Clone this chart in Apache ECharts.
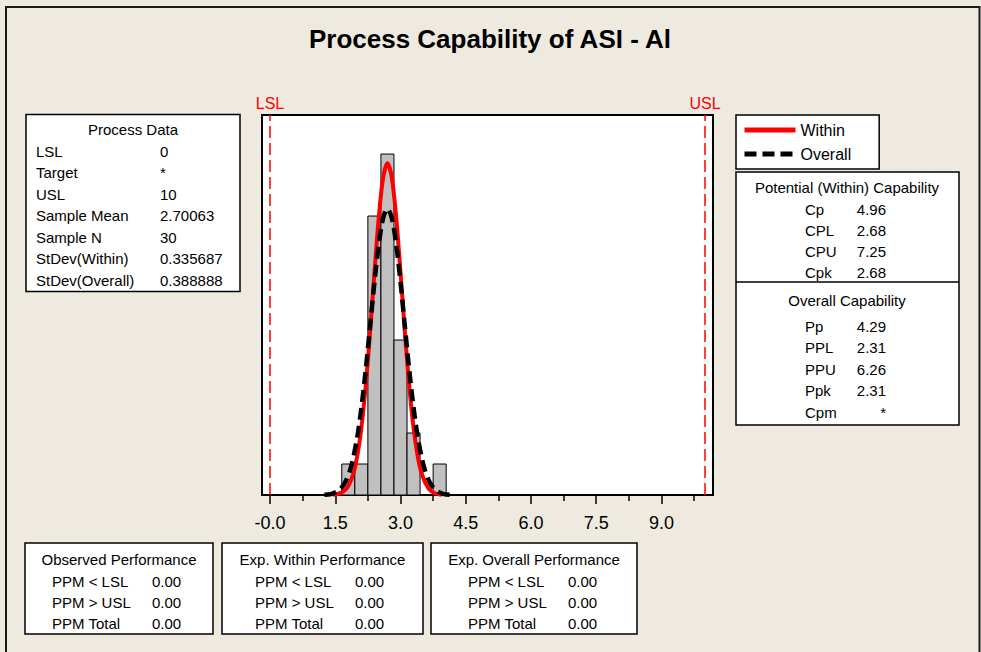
<!DOCTYPE html>
<html>
<head>
<meta charset="utf-8">
<script src="https://cdn.jsdelivr.net/npm/echarts@6/dist/echarts.min.js"></script>
<style>
html,body{margin:0;padding:0;background:#EEEAE0;}
#chart{width:981px;height:652px;}
</style>
</head>
<body>
<div id="chart"></div>
<script>
// ---------- data ----------
var chartTitle = 'Process Capability of ASI - Al';
var lsl = 0, usl = 10;
var binStarts = [1.65, 1.95, 2.25, 2.55, 2.85, 3.15, 3.45, 3.75];
var binWidth = 0.3;
var binCounts = [1, 1, 9, 11, 5, 2, 0, 1];

var withinX = [1.45,1.6,1.75,1.9,2.0,2.1,2.2,2.3,2.4,2.5,2.6,2.7,2.8,2.9,3.0,3.1,3.2,3.3,3.4,3.5,3.65,3.8,3.95];
var withinY = [0.01,0.05,0.19,0.62,1.21,2.16,3.52,5.25,7.16,8.95,10.23,10.70,10.24,8.97,7.19,5.27,3.54,2.17,1.22,0.63,0.20,0.05,0.01];
var overallX = [1.25,1.4,1.55,1.7,1.85,2.0,2.1,2.2,2.3,2.4,2.5,2.6,2.7,2.8,2.9,3.0,3.1,3.2,3.3,3.4,3.55,3.7,3.85,4.0,4.15];
var overallY = [0.01,0.03,0.12,0.34,0.84,1.82,2.80,4.03,5.43,6.85,8.08,8.93,9.23,8.94,8.10,6.87,5.45,4.05,2.82,1.83,0.85,0.34,0.12,0.03,0.01];

var tickValues = [0, 1.5, 3.0, 4.5, 6.0, 7.5, 9.0];
var tickLabels = ['-0.0', '1.5', '3.0', '4.5', '6.0', '7.5', '9.0'];
var minorTickValues = [0.75, 2.25, 3.75, 5.25, 6.75, 8.25, 9.75];

var processTitle = 'Process Data';
var processLabels = ['LSL', 'Target', 'USL', 'Sample Mean', 'Sample N', 'StDev(Within)', 'StDev(Overall)'];
var processValues = ['0', '*', '10', '2.70063', '30', '0.335687', '0.388888'];

var withinCapTitle = 'Potential (Within) Capability';
var withinCapLabels = ['Cp', 'CPL', 'CPU', 'Cpk'];
var withinCapValues = ['4.96', '2.68', '7.25', '2.68'];
var overallCapTitle = 'Overall Capability';
var overallCapLabels = ['Pp', 'PPL', 'PPU', 'Ppk', 'Cpm'];
var overallCapValues = ['4.29', '2.31', '6.26', '2.31', '*'];

var perfLabels = ['PPM < LSL', 'PPM > USL', 'PPM Total'];
var perfTitles = ['Observed Performance', 'Exp. Within Performance', 'Exp. Overall Performance'];
var observedPerf = ['0.00', '0.00', '0.00'];
var withinPerf = ['0.00', '0.00', '0.00'];
var overallPerf = ['0.00', '0.00', '0.00'];

// ---------- build ----------
var FONT = '"Liberation Sans", Arial, sans-serif';
var histData = binStarts.map(function (s, i) { return [s, s + binWidth, binCounts[i]]; });
var withinData = withinX.map(function (x, i) { return [x, withinY[i]]; });
var overallData = overallX.map(function (x, i) { return [x, overallY[i]]; });

function txt(x, y, s, align, size, weight) {
  return { type: 'text', x: x, y: y, silent: true,
    style: { text: s, fill: '#000', font: (weight || 'normal') + ' ' + (size || 15) + 'px ' + FONT,
      textAlign: align || 'left', textVerticalAlign: 'middle' } };
}
function box(x, y, w, h) {
  return { type: 'rect', shape: { x: x, y: y, width: w, height: h }, silent: true,
    style: { fill: '#fff', stroke: '#000', lineWidth: 1.5 } };
}

var g = [];
// outer frame
g.push({ type: 'polyline', silent: true, shape: { points: [[6, 652], [6, 7], [979.5, 7], [979.5, 652]] },
  style: { stroke: '#1a1a1a', lineWidth: 2, fill: null } });
// title
g.push(txt(490, 39, chartTitle, 'center', 26, 'bold'));

// Process data box
g.push(box(26, 114.5, 214, 177));
g.push(txt(133, 129, processTitle, 'center'));
processLabels.forEach(function (l, i) {
  var y = 151 + i * 21.5;
  g.push(txt(36, y, l, 'left'));
  g.push(txt(160, y, processValues[i], 'left'));
});

// Capability box
g.push(box(736, 172, 223, 253));
g.push({ type: 'line', silent: true, shape: { x1: 736, y1: 282, x2: 959, y2: 282 }, style: { stroke: '#000', lineWidth: 1.5 } });
g.push(txt(847, 187, withinCapTitle, 'center'));
withinCapLabels.forEach(function (l, i) {
  var y = 209 + i * 21.3;
  g.push(txt(805, y, l, 'left'));
  g.push(txt(886, y, withinCapValues[i], 'right'));
});
g.push(txt(847, 300, overallCapTitle, 'center'));
overallCapLabels.forEach(function (l, i) {
  var y = 326 + i * 21.5;
  g.push(txt(805, y, l, 'left'));
  g.push(txt(886, y, overallCapValues[i], 'right'));
});

// Performance boxes
var perfBoxes = [
  { x: 25, w: 188, lx: 52, vx: 152, vals: observedPerf },
  { x: 222, w: 201, lx: 255, vx: 355, vals: withinPerf },
  { x: 431, w: 206, lx: 468, vx: 568, vals: overallPerf }
];
perfBoxes.forEach(function (b, k) {
  g.push(box(b.x, 543, b.w, 91));
  g.push(txt(b.x + b.w / 2, 559, perfTitles[k], 'center'));
  perfLabels.forEach(function (l, i) {
    var y = 581 + i * 21;
    g.push(txt(b.lx, y, l, 'left'));
    g.push(txt(b.vx, y, b.vals[i], 'left'));
  });
});

var chart = echarts.init(document.getElementById('chart'), null, { renderer: 'svg' });
chart.setOption({
  backgroundColor: '#EEEAE0',
  animation: false,
  textStyle: { fontFamily: FONT },
  grid: { left: 262, top: 115, width: 451, height: 380, show: true, backgroundColor: '#fff',
    borderColor: '#000', borderWidth: 2, containLabel: false },
  legend: {
    left: 736, top: 115, orient: 'vertical', backgroundColor: '#fff', borderColor: '#000', borderWidth: 1.5,
    borderRadius: 0, padding: [7, 28, 7, 6], itemWidth: 51, itemHeight: 14, itemGap: 8,
    itemStyle: { opacity: 0 },
    lineStyle: { width: 5 },
    textStyle: { fontSize: 16, color: '#000', fontFamily: FONT },
    data: ['Within', 'Overall']
  },
  xAxis: [
    { type: 'value', min: -0.184, max: 10.184, position: 'bottom',
      axisLine: { show: true, onZero: false, lineStyle: { color: '#000', width: 2 } },
      axisTick: { show: true, inside: false, length: 9, customValues: tickValues, lineStyle: { color: '#000', width: 1.5 } },
      axisLabel: { show: true, inside: false, customValues: tickValues, margin: 19, fontSize: 18, color: '#000', fontFamily: FONT,
        formatter: function (v) { var i = tickValues.indexOf(v); return i >= 0 ? tickLabels[i] : ''; } },
      splitLine: { show: false } },
    { type: 'value', min: -0.184, max: 10.184, position: 'bottom', offset: 0,
      axisLine: { show: false, onZero: false },
      axisTick: { show: true, inside: false, length: 6, customValues: minorTickValues, lineStyle: { color: '#000', width: 1.5 } },
      axisLabel: { show: false }, splitLine: { show: false } }
  ],
  yAxis: { type: 'value', min: 0, max: 12.26, show: false, splitLine: { show: false } },
  series: [
    { type: 'custom', name: 'Histogram', xAxisIndex: 0, data: histData, z: 2, silent: true,
      renderItem: function (params, api) {
        var c = api.value(2);
        if (!c) return null;
        var p0 = api.coord([api.value(0), c]);
        var p1 = api.coord([api.value(1), 0]);
        return { type: 'rect', shape: { x: p0[0], y: p0[1], width: p1[0] - p0[0], height: p1[1] - p0[1] },
          style: { fill: '#C0C0C0', stroke: '#000', lineWidth: 1 } };
      },
      markLine: { silent: true, symbol: ['none', 'none'],
        lineStyle: { color: '#FF0000', type: [12, 5], width: 1.5 },
        label: { show: true, position: 'end', color: '#FF0000', fontSize: 16, fontFamily: FONT, distance: 4,
          formatter: function (p) { return p.name; } },
        data: [{ name: 'LSL', xAxis: lsl }, { name: 'USL', xAxis: usl }] } },
    { type: 'line', name: 'Within', xAxisIndex: 0, data: withinData, smooth: 0.3, symbol: 'none', z: 3,
      lineStyle: { color: '#FF0000', width: 4 }, itemStyle: { color: '#FF0000' } },
    { type: 'line', name: 'Overall', xAxisIndex: 0, data: overallData, smooth: 0.3, symbol: 'none', z: 4,
      lineStyle: { color: '#000', width: 4.5, type: [12, 6] }, itemStyle: { color: '#000' } }
  ],
  graphic: g
});
</script>
</body>
</html>
